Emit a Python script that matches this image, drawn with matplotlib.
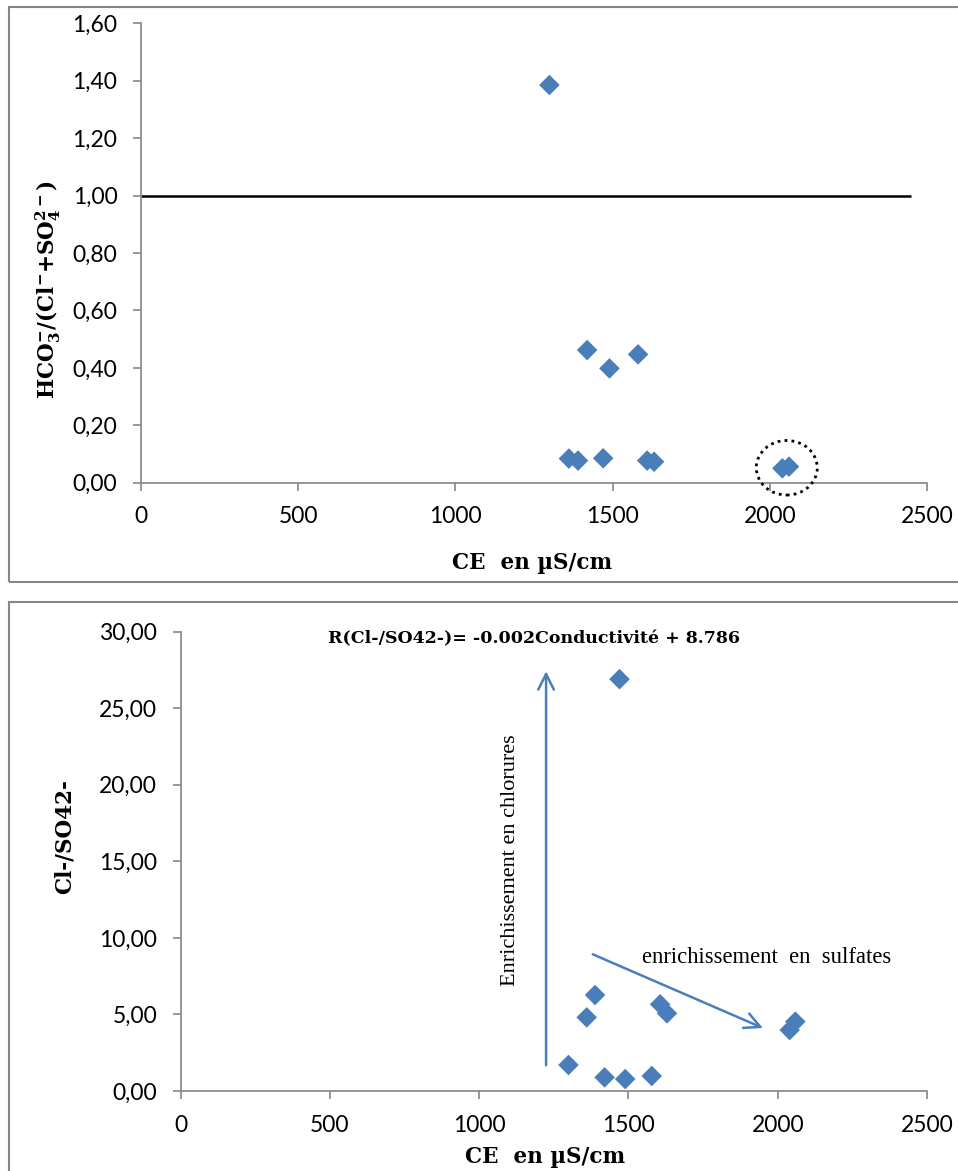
#!/usr/bin/env python3
"""HCO3/(Cl+SO4) and Cl/SO4 ratios versus conductivity (CE)."""

import matplotlib
matplotlib.use("Agg")
import matplotlib.pyplot as plt
from matplotlib.patches import Ellipse, Rectangle
from matplotlib.ticker import FuncFormatter, MultipleLocator

plt.rcParams.update({
    "font.family": "Lato",
    "font.size": 16.5,
    "mathtext.fontset": "custom",
    "mathtext.rm": "DejaVu Serif:bold",
    "mathtext.bf": "DejaVu Serif:bold",
    "mathtext.it": "DejaVu Serif:bold",
})

BLUE = "#4A7EBB"
GREY = "#868686"

# conductivity of the samples (uS/cm)
ce_top = [1299, 1361, 1390, 1419, 1470, 1490, 1581, 1610, 1632, 2040, 2061]
hco3_ratio = [1.385, 0.084, 0.077, 0.462, 0.085, 0.398, 0.447, 0.077, 0.073, 0.050, 0.056]

ce_bot = [1299, 1360, 1388, 1420, 1470, 1489, 1578, 1606, 1629, 2040, 2059]
cl_so4_ratio = [1.70, 4.81, 6.27, 0.89, 26.9, 0.78, 0.98, 5.66, 5.07, 3.98, 4.53]

x_ticks = [0, 500, 1000, 1500, 2000, 2500]
ref_line_y = 1.0
ref_line_xmax = 2450
# dotted circle around the two most conductive samples
circle_center = (2054, 0.052)
circle_size = (194, 0.19)

equation = "R(Cl-/SO42-)= -0.002Conductivité + 8.786"
chlor_arrow = ((1224, 1.5), (1224, 27.6))
sulf_arrow = ((1372, 9.0), (1959, 4.04))

W, H = 958, 1171
fig = plt.figure(figsize=(W / 100, H / 100), dpi=100)


def fx(px):
    return px / W


def fy(py):
    return 1 - py / H


def comma(v, _):
    return f"{v:.2f}".replace(".", ",")


def style_axes(ax):
    for s in ("top", "right"):
        ax.spines[s].set_visible(False)
    for s in ("left", "bottom"):
        ax.spines[s].set_color(GREY)
        ax.spines[s].set_linewidth(1.2)
    ax.tick_params(direction="out", length=6, width=1.2, color=GREY, pad=11,
                   labelsize=16.5)
    ax.set_xlim(0, 2500)
    ax.set_xticks(x_ticks)
    ax.yaxis.set_major_formatter(FuncFormatter(comma))


# outer chart frames
fig.add_artist(Rectangle((fx(9), fy(582)), 1.2, (582 - 6.5) / H, transform=fig.transFigure,
                         fill=False, edgecolor=GREY, lw=1.5))
fig.add_artist(Rectangle((fx(9), -0.2), 1.2, fy(601.5) + 0.2, transform=fig.transFigure,
                         fill=False, edgecolor=GREY, lw=1.5))

# top chart
ax1 = fig.add_axes([fx(141), fy(482.7), fx(927) - fx(141), fy(23.3) - fy(482.7)])
style_axes(ax1)
ax1.set_ylim(0, 1.6)
ax1.yaxis.set_major_locator(MultipleLocator(0.2))
ax1.hlines(ref_line_y, 0, ref_line_xmax, color="black", lw=1.8, zorder=2)
ax1.scatter(ce_top, hco3_ratio, marker="D", s=110, color=BLUE, edgecolors="none",
            zorder=3, clip_on=False)
ax1.add_patch(Ellipse(circle_center, circle_size[0], circle_size[1], fill=False,
                      edgecolor="black", lw=2, linestyle=(0, (1, 1.5)), zorder=4,
                      clip_on=False))
ax1.set_ylabel(r"$\mathbf{HCO_3^{-}/(Cl^{-}{+}SO_4^{2-})}$", fontsize=15.5)
ax1.yaxis.set_label_coords(-0.118, 0.42)
ax1.yaxis.label.set_va("center")
ax1.set_xlabel("CE  en µS/cm", family="DejaVu Serif", weight="bold", fontsize=15.5)
ax1.xaxis.set_label_coords(0.497, -0.175)
ax1.xaxis.label.set_va("center")

# bottom chart
ax2 = fig.add_axes([fx(180.7), fy(1091), fx(927) - fx(180.7), fy(631.7) - fy(1091)])
style_axes(ax2)
ax2.set_ylim(0, 30)
ax2.yaxis.set_major_locator(MultipleLocator(5))
ax2.scatter(ce_bot, cl_so4_ratio, marker="D", s=110, color=BLUE, edgecolors="none",
            zorder=3, clip_on=False)
ax2.annotate("", xy=chlor_arrow[1], xytext=chlor_arrow[0],
             arrowprops=dict(arrowstyle="->", color=BLUE, lw=1.8, mutation_scale=28))
ax2.annotate("", xy=sulf_arrow[1], xytext=sulf_arrow[0],
             arrowprops=dict(arrowstyle="->", color=BLUE, lw=1.8, mutation_scale=28))
ax2.text(1104, 15.1, "Enrichissement en chlorures", rotation=90, ha="center",
         va="center", family="Liberation Serif", fontsize=16)
ax2.text(1545, 8.74, "enrichissement  en  sulfates", ha="left", va="center",
         family="Liberation Serif", fontsize=16.3)
ax2.text(494, 29.5, equation, ha="left", va="center", family="DejaVu Serif",
         weight="bold", fontsize=12.5)
ax2.set_ylabel("Cl-/SO42-", family="DejaVu Serif", weight="bold", fontsize=15.5)
ax2.yaxis.set_label_coords(-0.155, 0.555)
ax2.yaxis.label.set_va("center")
ax2.set_xlabel("CE  en µS/cm", family="DejaVu Serif", weight="bold", fontsize=15.5)
ax2.xaxis.set_label_coords(0.488, -0.144)
ax2.xaxis.label.set_va("center")

fig.savefig("out.png", dpi=100)
